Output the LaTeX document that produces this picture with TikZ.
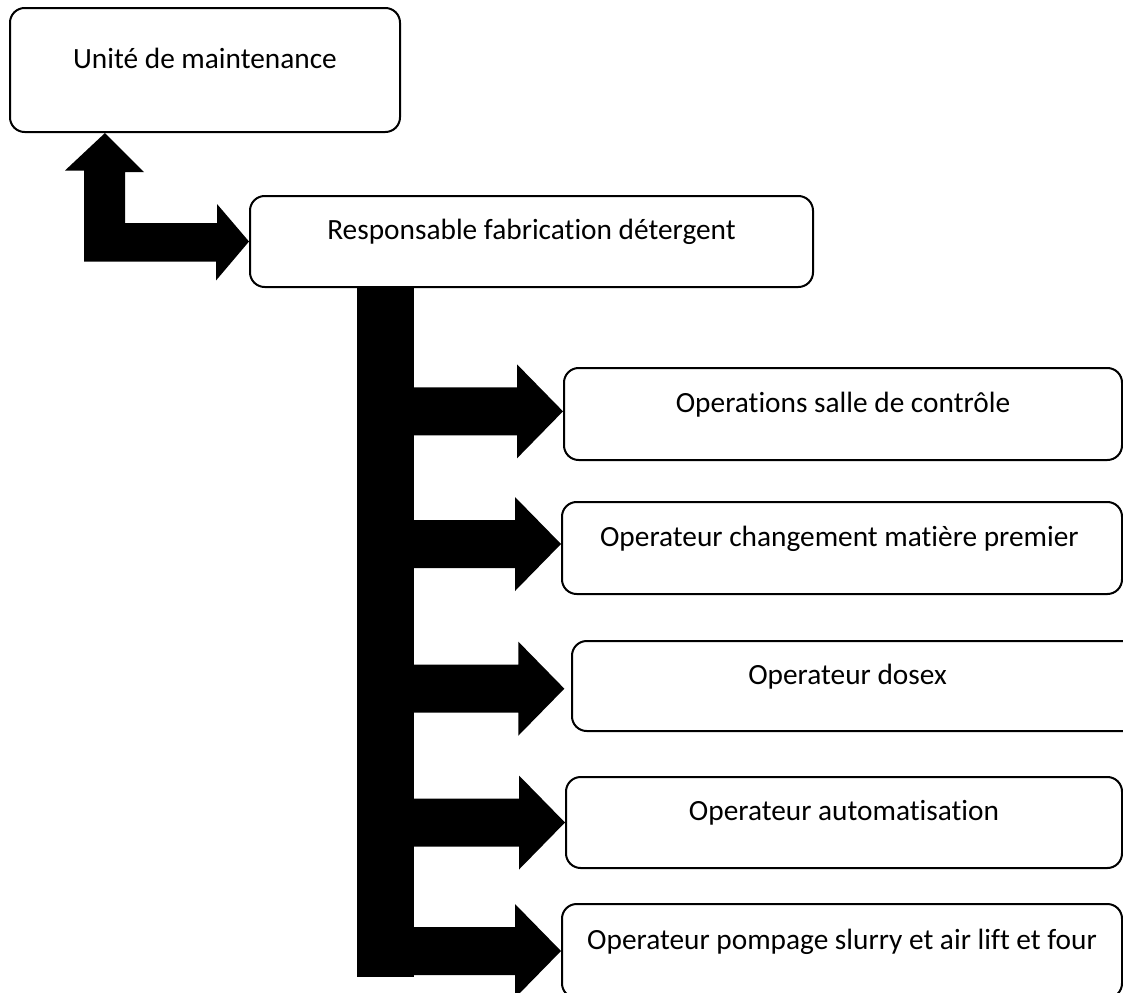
\documentclass[tikz,border=0pt]{standalone}
\usepackage{fontspec}
\setmainfont{Carlito}[RawFeature={-liga}]
\begin{document}
\begin{tikzpicture}[x=0.75pt,y=-0.75pt,
  box/.style={draw=black, line width=1.5pt, rounded corners=11pt, fill=white,
    inner xsep=0pt, inner ysep=2pt, text height=16.5pt, text depth=19.5pt,
    font=\fontsize{22pt}{26pt}\selectfont},
  blockarrow/.style={fill=black},
  brarrow/.pic={\fill (0,0) -- (-46,-47) -- (-46,-24) -- (-170,-24) -- (-170,24) -- (-46,24) -- (-46,47) -- cycle;}
]
\useasboundingbox (0,0) rectangle (1123,992);
\clip (0,0) rectangle (1123,992);

% boxes
\node[box, minimum width=292.5pt, minimum height=93pt] (um) at (205,70) {Unité de maintenance};
\node[box, minimum width=422.25pt, minimum height=68.25pt] (rf) at (531.5,241.5) {Responsable fabrication détergent};
\node[box, minimum width=418.5pt, minimum height=69pt] (os) at (843,414) {Operations salle de contrôle};
\node[box, minimum width=420pt, minimum height=69pt] (cm) at (842,548) {Operateur changement matière premier\hspace*{4pt}};
\node[box, minimum width=426pt, minimum height=67.5pt] (dx) at (856,686) {Operateur dosex\hspace*{12.75pt}};
\node[box, minimum width=417pt, minimum height=68.25pt] (au) at (844,822.5) {Operateur automatisation};
\node[box, minimum width=420pt, minimum height=70.5pt] (pp) at (842,951) {Operateur pompage slurry et air lift et four};

% bent arrow from rf up to um
\fill[blockarrow] (105,0 |- um.south) -- ++(39,39) -- ++(-19,0) -- ++(0,51) -- ++(92,0)
  -- ++(0,-19) -- (rf.west) -- ++(-33,39) -- ++(0,-19) -- ++(-132,0) -- ++(0,-91)
  -- ++(-19,0) -- cycle;

% vertical bar
\fill[blockarrow] (357,0 |- rf.south) rectangle (414,977);

% branch arrows
\pic at ([yshift=2]os.west) {brarrow};
\pic at ([yshift=3]cm.west) {brarrow};
\pic at ([xshift=-5,yshift=-2]dx.west) {brarrow};
\pic at (au.west) {brarrow};
\pic at (pp.west) {brarrow};
\end{tikzpicture}
\end{document}
